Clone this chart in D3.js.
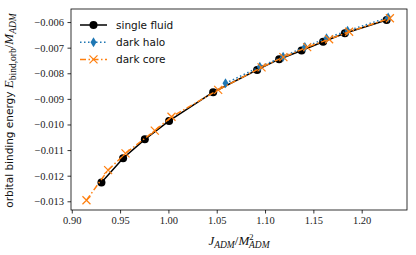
<!DOCTYPE html>
<html>
<head>
<meta charset="utf-8">
<script src="https://cdn.jsdelivr.net/npm/d3@7"></script>
<style>
  body { margin: 0; background: #fff; }
  svg { display: block; }
</style>
</head>
<body>
<div id="chart"></div>
<script>
// values
var singleJ = [0.9307, 0.9531, 0.9756, 1.0007, 1.0463, 1.0918, 1.1146, 1.1378, 1.1601, 1.1826, 1.2258];
var singleE = [-0.01227, -0.01132, -0.01058, -0.00986, -0.00874, -0.00787, -0.00745, -0.00711, -0.00677, -0.00644, -0.00592];

var haloJ = [1.0591, 1.0946, 1.1187, 1.1412, 1.1636, 1.1854, 1.2274];
var haloE = [-0.00839, -0.00775, -0.00735, -0.00697, -0.00663, -0.00634, -0.00582];

var coreJ = [0.9152, 0.9376, 0.9556, 0.9859, 1.0032, 1.0515, 1.0964, 1.1190, 1.1436, 1.1663, 1.1870, 1.2292];
var coreE = [-0.01296, -0.01178, -0.01113, -0.01024, -0.00970, -0.00865, -0.00777, -0.00737, -0.00698, -0.00667, -0.00638, -0.00585];

var xTicks = [0.90, 0.95, 1.00, 1.05, 1.10, 1.15, 1.20];
var yTicks = [-0.013, -0.012, -0.011, -0.010, -0.009, -0.008, -0.007, -0.006];

var W = 416, H = 255;
var mLeft = 71, mRight = 407, mTop = 9, mBottom = 210;

var svg = d3.select("#chart").append("svg")
    .attr("width", W).attr("height", H);

var x = d3.scaleLinear().domain([0.8992, 1.2469]).range([mLeft, mRight]);
var y = d3.scaleLinear().domain([-0.01334, -0.00549]).range([mBottom, mTop]);

var serif = "'Liberation Serif', 'DejaVu Serif', serif";
var sans = "'DejaVu Sans', sans-serif";
var minus = function(s) { return s.replace("-", "\u2212"); };

// axes
var xAxis = svg.append("g")
    .attr("transform", "translate(0," + mBottom + ")")
    .call(d3.axisBottom(x).tickValues(xTicks).tickSize(3.5).tickPadding(3)
        .tickFormat(d3.format(".2f")));
var yAxis = svg.append("g")
    .attr("transform", "translate(" + mLeft + ",0)")
    .call(d3.axisLeft(y).tickValues(yTicks).tickSize(3.5).tickPadding(3.5)
        .tickFormat(function(d) { return minus(d3.format(".3f")(d)); }));

[xAxis, yAxis].forEach(function(g) {
  g.select(".domain").remove();
  g.selectAll("line").attr("stroke", "#000").attr("stroke-width", 0.8);
  g.selectAll("text").attr("font-family", serif).attr("font-size", 10.5).attr("fill", "#222");
});

svg.append("rect")
    .attr("x", mLeft).attr("y", mTop)
    .attr("width", mRight - mLeft).attr("height", mBottom - mTop)
    .attr("fill", "none").attr("stroke", "#000").attr("stroke-width", 0.8);

// series
function pts(xs, ys) { return xs.map(function(v, i) { return [v, ys[i]]; }); }
var line = d3.line().x(function(d) { return x(d[0]); }).y(function(d) { return y(d[1]); });

var single = pts(singleJ, singleE);
var halo = pts(haloJ, haloE);
var core = pts(coreJ, coreE);

svg.append("path").datum(single).attr("d", line)
    .attr("fill", "none").attr("stroke", "#000").attr("stroke-width", 1.5);
svg.selectAll("circle.single").data(single).enter().append("circle")
    .attr("class", "single")
    .attr("cx", function(d) { return x(d[0]); })
    .attr("cy", function(d) { return y(d[1]); })
    .attr("r", 4).attr("fill", "#000");

var diamond = "M0,-5L3,0L0,5L-3,0Z";
svg.append("path").datum(halo).attr("d", line)
    .attr("fill", "none").attr("stroke", "#1f77b4").attr("stroke-width", 1.5)
    .attr("stroke-dasharray", "1.5,2.5");
svg.selectAll("path.halo").data(halo).enter().append("path")
    .attr("class", "halo")
    .attr("transform", function(d) { return "translate(" + x(d[0]) + "," + y(d[1]) + ")"; })
    .attr("d", diamond).attr("fill", "#1f77b4");

var cross = "M-4,-4L4,4M-4,4L4,-4";
svg.append("path").datum(core).attr("d", line)
    .attr("fill", "none").attr("stroke", "#ff7f0e").attr("stroke-width", 1.5)
    .attr("stroke-dasharray", "6,2.5,1.5,2.5");
svg.selectAll("path.core").data(core).enter().append("path")
    .attr("class", "core")
    .attr("transform", function(d) { return "translate(" + x(d[0]) + "," + y(d[1]) + ")"; })
    .attr("d", cross).attr("fill", "none").attr("stroke", "#ff7f0e").attr("stroke-width", 1.2);

// legend
var legendItems = [
  {label: "single fluid", color: "#000", dash: null, mark: "circle"},
  {label: "dark halo", color: "#1f77b4", dash: "1.5,2.5", mark: "diamond"},
  {label: "dark core", color: "#ff7f0e", dash: "6,2.5,1.5,2.5", mark: "cross"}
];
var lg = svg.append("g");
legendItems.forEach(function(it, i) {
  var yy = 25 + i * 17.2;
  lg.append("line").attr("x1", 80).attr("x2", 107).attr("y1", yy).attr("y2", yy)
      .attr("stroke", it.color).attr("stroke-width", 1.5)
      .attr("stroke-dasharray", it.dash);
  if (it.mark == "circle") {
    lg.append("circle").attr("cx", 93.5).attr("cy", yy).attr("r", 4).attr("fill", it.color);
  } else if (it.mark == "diamond") {
    lg.append("path").attr("transform", "translate(93.5," + yy + ")").attr("d", diamond).attr("fill", it.color);
  } else {
    lg.append("path").attr("transform", "translate(93.5," + yy + ")").attr("d", cross)
        .attr("fill", "none").attr("stroke", it.color).attr("stroke-width", 1.2);
  }
  lg.append("text").attr("x", 116).attr("y", yy + 3.8)
      .attr("font-family", sans).attr("font-size", 10.5).attr("fill", "#111")
      .text(it.label);
});

// axis labels
var xl = svg.append("text")
    .attr("x", (mLeft + mRight) / 2).attr("y", 245)
    .attr("text-anchor", "middle")
    .attr("font-family", serif).attr("font-size", 13).attr("fill", "#111");
xl.append("tspan").attr("font-style", "italic").text("J");
xl.append("tspan").attr("font-style", "italic").attr("font-size", 9.5).attr("dy", 3).text("ADM");
xl.append("tspan").attr("dy", -3).text("/");
xl.append("tspan").attr("font-style", "italic").text("M");
xl.append("tspan").attr("font-size", 8.5).attr("dy", -5.5).text("2");
xl.append("tspan").attr("font-style", "italic").attr("font-size", 9.5).attr("dx", -4.5).attr("dy", 8.5).text("ADM");

var yl = svg.append("text")
    .attr("transform", "translate(13," + ((mTop + mBottom) / 2 + 1) + ") rotate(-90)")
    .attr("text-anchor", "middle")
    .attr("font-family", sans).attr("font-size", 10.5).attr("fill", "#111");
yl.append("tspan").text("orbital binding energy ");
yl.append("tspan").attr("font-family", serif).attr("font-style", "italic").attr("font-size", 13).text("E");
yl.append("tspan").attr("font-family", serif).attr("font-size", 9.5).attr("dy", 3).text("bind,orb");
yl.append("tspan").attr("font-family", serif).attr("font-size", 13).attr("dy", -3).text("/");
yl.append("tspan").attr("font-family", serif).attr("font-style", "italic").attr("font-size", 13).text("M");
yl.append("tspan").attr("font-family", serif).attr("font-style", "italic").attr("font-size", 9.5).attr("dy", 3).text("ADM");
</script>
</body>
</html>
